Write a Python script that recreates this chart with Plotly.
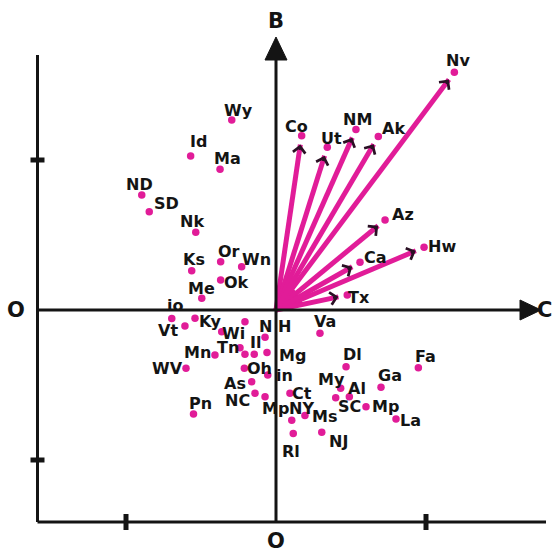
import math
import plotly.graph_objects as go

# ---------------- data ----------------
# states drawn as vectors from the origin (C = horizontal, B = vertical)
vec_states = ["Nv", "Co", "Ut", "NM", "Ak", "Az", "Hw", "Ca", "Tx"]
vec_c = [1.189, 0.171, 0.342, 0.533, 0.682, 0.727, 0.987, 0.560, 0.475]
vec_b = [1.585, 1.162, 1.085, 1.204, 1.156, 0.600, 0.418, 0.318, 0.100]

# states drawn as points only
states = ["Wy", "Id", "Ma", "ND", "SD", "Nk", "Ks", "Or", "Wn", "Ok", "Me", "io",
          "Vt", "Ky", "Wi", "", "N H", "Mn", "Tn", "", "Il", "Mg", "Oh", "in",
          "As", "NC", "Mp", "WV", "Pn", "Ct", "NY", "Rl", "Ms", "NJ", "My", "SC",
          "Al", "Mp", "La", "Ga", "Dl", "Fa", "Va"]
state_c = [-0.295, -0.569, -0.373, -0.895, -0.845, -0.535, -0.562, -0.369, -0.229, -0.369, -0.495, -0.695,
           -0.607, -0.540, -0.362, -0.207, -0.073, -0.407, -0.240, -0.207, -0.145, -0.060, -0.211, -0.055,
           -0.162, -0.140, -0.073, -0.600, -0.550, 0.093, 0.105, 0.115, 0.193, 0.305, 0.431, 0.398,
           0.489, 0.600, 0.800, 0.700, 0.467, 0.949, 0.293]
state_b = [1.267, 1.027, 0.938, 0.767, 0.655, 0.518, 0.262, 0.322, 0.289, 0.200, 0.078, -0.056,
           -0.107, -0.055, -0.145, -0.078, -0.182, -0.300, -0.251, -0.295, -0.295, -0.283, -0.389, -0.433,
           -0.478, -0.555, -0.578, -0.389, -0.693, -0.555, -0.735, -0.823, -0.703, -0.815, -0.522, -0.585,
           -0.578, -0.645, -0.727, -0.515, -0.378, -0.385, -0.155]

axis_tick_values = [-1, 1]
axis_names = {"vertical": "B", "horizontal": "C", "origin": "O"}

# ---------------- layout / style ----------------
W, H = 559, 553
PX = 150.0                     # pixels per unit
OX, OY = 276.0, 310.0          # origin position in pixels
x_range = [-OX / PX, (W - OX) / PX]
y_range = [-(H - OY) / PX, OY / PX]

MAG = "#e11c98"
INK = "#141414"
FONT = "DejaVu Sans"

# label offsets (pixels, screen: +x right, +y down)
vec_off = [(4, -12), (-5, -9), (4, -9), (2, -10), (15, -8), (18, -6), (18, -1), (15, -5), (12, 2)]
state_off = [(7, -9), (8, -14), (7, -11), (-2, -10), (17, -8), (-4, -11), (2, -11), (8, -10), (15, -7),
             (16, 2), (0, -10), (3, -13), (-17, 4), (15, 3), (12, 2), (0, 0), (10, -11), (-17, -3),
             (-12, 0), (0, 0), (1, -12), (25, 3), (15, 0), (17, 1), (-17, 2), (-18, 7), (10, 12),
             (-19, 0), (7, -10), (12, 0), (10, -12), (-2, 18), (20, 1), (17, 9), (-9, -9), (14, 9),
             (8, -8), (19, 0), (14, 1), (9, -12), (6, -12), (7, -11), (5, -12)]

def u(px):
    return px / PX

fig = go.Figure()

# dense magenta fan near the origin (wedge spanned by the vectors)
angles = sorted(math.atan2(b, c) for c, b in zip(vec_c, vec_b))
R = u(26)
fan_x = [0] + [R * math.cos(a) for a in angles] + [0]
fan_y = [0] + [R * math.sin(a) for a in angles] + [0]
fig.add_trace(go.Scatter(x=fan_x, y=fan_y, mode="lines", fill="toself", fillcolor=MAG,
                         line=dict(color=MAG, width=3), hoverinfo="skip"))

# vectors: magenta shafts ending a little before each point
GAP = u(9)
line_x, line_y, tips = [], [], []
for c, b in zip(vec_c, vec_b):
    L = math.hypot(c, b)
    tx, ty = c * (1 - GAP / L), b * (1 - GAP / L)
    tips.append((tx, ty, c / L, b / L))
    line_x += [0, tx, None]
    line_y += [0, ty, None]
fig.add_trace(go.Scatter(x=line_x, y=line_y, mode="lines",
                         line=dict(color=MAG, width=5), hoverinfo="skip"))

# all points
fig.add_trace(go.Scatter(x=vec_c + state_c, y=vec_b + state_b, mode="markers",
                         marker=dict(color=MAG, size=7.5), hoverinfo="skip"))

annotations = []
# dark chevron arrowheads
for tx, ty, ux, uy in tips:
    annotations.append(dict(x=tx, y=ty, xref="x", yref="y", text="", showarrow=True,
                            ax=-ux * 7, ay=uy * 7, arrowhead=4, arrowsize=1.1,
                            arrowwidth=2.2, arrowcolor="#2a1024"))

# point labels
def add_label(name, x, y, off):
    if not name:
        return
    annotations.append(dict(x=x, y=y, xref="x", yref="y", text=name, showarrow=False,
                            xshift=off[0], yshift=-off[1],
                            font=dict(family=FONT, size=16, color=INK, weight="bold")))

for n, c, b, o in zip(vec_states, vec_c, vec_b, vec_off):
    add_label(n, c, b, o)
for n, c, b, o in zip(states, state_c, state_b, state_off):
    add_label(n, c, b, o)

# axis letters
big = dict(family=FONT, size=21, color=INK, weight="bold")
annotations += [
    dict(x=0, y=u(OY - 21), xref="x", yref="y", text=axis_names["vertical"], showarrow=False, font=big),
    dict(x=u(544 - OX), y=0, xref="x", yref="y", text=axis_names["horizontal"], showarrow=False, font=big),
    dict(x=u(16 - OX), y=0, xref="x", yref="y", text=axis_names["origin"], showarrow=False, font=big),
    dict(x=0, y=u(OY - 541), xref="x", yref="y", text=axis_names["origin"], showarrow=False, font=big),
]

# frame and axes
left_x = u(37.5 - OX)
bottom_y = u(OY - 522)
top_y = u(OY - 55)
right_x = u(546 - OX)
shapes = []
ln = dict(color=INK, width=3)
shapes.append(dict(type="line", x0=left_x, x1=left_x, y0=bottom_y, y1=top_y, line=ln))
shapes.append(dict(type="line", x0=left_x, x1=right_x, y0=bottom_y, y1=bottom_y, line=ln))
for t in axis_tick_values:
    shapes.append(dict(type="line", x0=left_x - u(7), x1=left_x + u(7), y0=t, y1=t,
                       line=dict(color=INK, width=5)))
    shapes.append(dict(type="line", x0=t, x1=t, y0=bottom_y - u(8), y1=bottom_y + u(8),
                       line=dict(color=INK, width=5)))
# B axis with arrow
b_tip = u(OY - 37)
b_base = u(OY - 60)
shapes.append(dict(type="line", x0=0, x1=0, y0=bottom_y, y1=b_base, line=ln))
shapes.append(dict(type="path",
                   path=f"M {-u(11)},{b_base} L {u(11)},{b_base} L 0,{b_tip} Z",
                   fillcolor=INK, line=dict(color=INK, width=1)))
# C axis with arrow
c_tip = u(541 - OX)
c_base = u(520 - OX)
shapes.append(dict(type="line", x0=left_x, x1=c_base, y0=0, y1=0, line=ln))
shapes.append(dict(type="path",
                   path=f"M {c_base},{-u(10)} L {c_base},{u(10)} L {c_tip},0 Z",
                   fillcolor=INK, line=dict(color=INK, width=1)))

fig.update_layout(
    width=W, height=H, margin=dict(l=0, r=0, t=0, b=0),
    paper_bgcolor="white", plot_bgcolor="white", showlegend=False,
    xaxis=dict(range=x_range, visible=False, fixedrange=True),
    yaxis=dict(range=y_range, visible=False, fixedrange=True),
    shapes=shapes, annotations=annotations,
)

fig.write_html("out.html", config={"displayModeBar": False})

# remove the browser's default page margin so the figure fills the window
with open("out.html", encoding="utf-8") as f:
    html = f.read()
html = html.replace("<body>", '<body style="margin:0;padding:0;overflow:hidden">', 1)
with open("out.html", "w", encoding="utf-8") as f:
    f.write(html)
